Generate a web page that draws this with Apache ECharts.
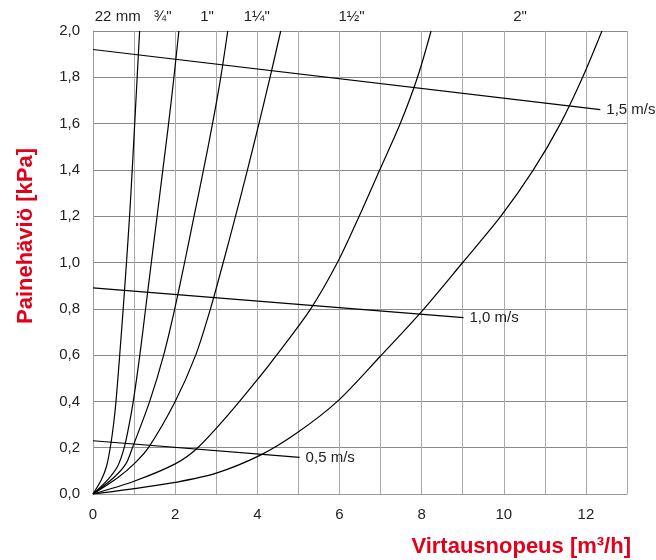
<!DOCTYPE html>
<html>
<head>
<meta charset="utf-8">
<script src="https://cdn.jsdelivr.net/npm/echarts@6/dist/echarts.min.js"></script>
<style>
html,body{margin:0;padding:0;background:#fff;}
#c{width:656px;height:560px;}
</style>
</head>
<body>
<div id="c"></div>
<script>
// Pipe curves: [flow m3/h, pressure loss kPa]
const pipe22mm = [[0,0],[0.2,0.06],[0.33,0.12],[0.42,0.2],[0.5,0.3],[0.56,0.4],[0.65,0.6],[0.735,0.8],[0.815,1.0],[0.89,1.2],[0.955,1.4],[1.015,1.6],[1.075,1.8],[1.135,2.0]];
const pipe34 = [[0,0],[0.35,0.06],[0.6,0.12],[0.76,0.2],[0.88,0.3],[0.98,0.4],[1.14,0.6],[1.28,0.8],[1.42,1.0],[1.56,1.2],[1.70,1.4],[1.84,1.6],[1.97,1.8],[2.09,2.0]];
const pipe1 = [[0,0],[0.5,0.07],[0.8,0.13],[0.96,0.2],[1.38,0.4],[1.72,0.6],[1.99,0.8],[2.23,1.0],[2.46,1.2],[2.69,1.4],[2.91,1.6],[3.11,1.8],[3.28,2.0]];
const pipe114 = [[0,0],[0.6,0.07],[1.0,0.13],[1.35,0.2],[2.0,0.4],[2.5,0.6],[2.86,0.8],[3.17,1.0],[3.47,1.2],[3.76,1.4],[4.04,1.6],[4.31,1.8],[4.57,2.0]];
const pipe112 = [[0,0],[1,0.055],[2,0.13],[2.55,0.2],[3.33,0.35],[4.03,0.5],[4.47,0.6],[5.3,0.8],[5.95,1.0],[6.48,1.2],[6.98,1.4],[7.48,1.6],[7.9,1.8],[8.23,2.0]];
const pipe2 = [[0,0],[1,0.023],[2,0.05],[3,0.09],[4.1,0.17],[4.96,0.263],[5.95,0.4],[6.99,0.594],[7.96,0.78],[9.0,1.0],[9.93,1.2],[10.72,1.4],[11.38,1.6],[11.92,1.8],[12.39,2.0]];

// Velocity lines
const vel05 = [[0,0.23],[5.03,0.158]];
const vel10 = [[0,0.89],[9.02,0.762]];
const vel15 = [[0,1.92],[12.35,1.66]];
const velLabels = ['0,5 m/s','1,0 m/s','1,5 m/s'];

// Pipe size labels (top)
const pipeLabels = ['22 mm','¾"','1"','1¼"','1½"','2"'];
const pipeLabelPx = [117.7,162.7,207,256.8,351.6,520];

const xTitle = 'Virtausnopeus [m³/h]';
const yTitle = 'Painehäviö [kPa]';

const FONT = '"Liberation Sans", Arial, Helvetica, sans-serif';
const RED = '#e2001a';
const TXT = '#222';

const chart = echarts.init(document.getElementById('c'), null, {renderer:'canvas'});

const pipeSeries = [pipe22mm, pipe34, pipe1, pipe114, pipe112, pipe2].map(d => ({
  type:'line', data:d, showSymbol:false, symbol:'none',
  smooth:0.3,
  lineStyle:{color:'#000', width:1.2}, silent:true, z:3
}));
const velSeries = [vel05, vel10, vel15].map((d,i) => ({
  type:'line', data:d, showSymbol:false, symbol:'none',
  lineStyle:{color:'#000', width:1.2}, silent:true, z:3,
  endLabel:{show:true, formatter:velLabels[i], distance:6, color:TXT, fontSize:15, fontFamily:FONT}
}));

const graphics = pipeLabels.map((t,i) => ({
  type:'text', x:pipeLabelPx[i], y:17,
  style:{text:t, fill:TXT, font:'15px '+FONT, textAlign:'center', textVerticalAlign:'middle'}
}));
graphics.push({
  type:'text', x:631, y:547,
  style:{text:xTitle, fill:RED, font:'bold 22px '+FONT, textAlign:'right', textVerticalAlign:'middle'}
});
graphics.push({
  type:'text', x:26, y:236, rotation:Math.PI/2,
  style:{text:yTitle, fill:RED, font:'bold 22px '+FONT, textAlign:'center', textVerticalAlign:'middle'}
});

chart.setOption({
  animation:false,
  backgroundColor:'#fff',
  grid:{left:93, right:29, top:31, bottom:66, containLabel:false},
  xAxis:{
    type:'value', min:0, max:13, interval:1,
    axisLine:{show:true, lineStyle:{color:'#999', width:1}},
    axisTick:{show:false},
    axisLabel:{formatter:v => (v % 2 === 0 ? String(v) : ''), color:TXT, fontSize:15, fontFamily:FONT, margin:13},
    splitLine:{show:true, lineStyle:{color:'#aaa', width:1}}
  },
  yAxis:{
    type:'value', min:0, max:2, interval:0.2,
    axisLine:{show:true, lineStyle:{color:'#999', width:1}},
    axisTick:{show:false},
    axisLabel:{formatter:v => v.toFixed(1).replace('.', ','), color:TXT, fontSize:15, fontFamily:FONT, margin:13},
    splitLine:{show:true, lineStyle:{color:'#8a8a8a', width:1}}
  },
  graphic:graphics,
  series:pipeSeries.concat(velSeries)
});
</script>
</body>
</html>
